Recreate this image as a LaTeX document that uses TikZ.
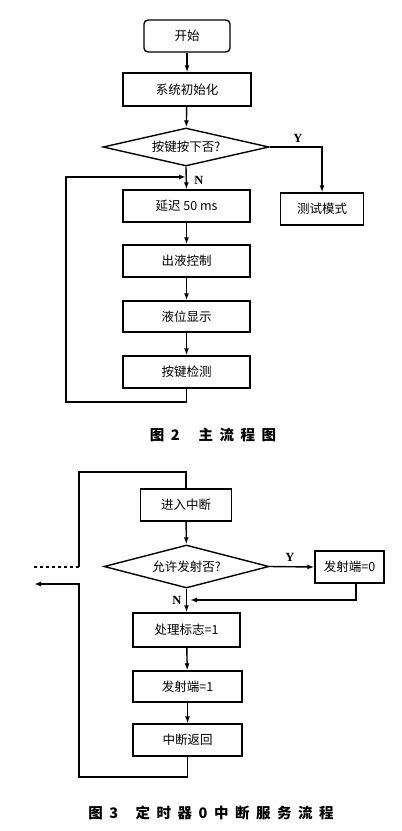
\documentclass[tikz,border=0pt]{standalone}
\usepackage{fontspec}
\newfontfamily\cjk{Noto Sans CJK SC}
\newfontfamily\lat{Liberation Serif}
\usetikzlibrary{shapes.geometric,arrows.meta}
\begin{document}
\begin{tikzpicture}[x=1pt,y=-1pt,
  line width=1.4pt,
  box/.style={draw,rectangle,inner sep=0pt,minimum height=32pt,font=\cjk\fontsize{12.5}{14}\selectfont},
  rbox/.style={box,rounded corners=4pt},
  dia/.style={draw,diamond,aspect=4.4,inner sep=0pt,font=\cjk\fontsize{12.5}{14}\selectfont},
  lab/.style={font=\lat\bfseries\fontsize{12.5}{14}\selectfont},
  captext/.style={font=\cjk\bfseries\fontsize{14.5}{16}\selectfont},
  arr/.style={-{Latex[length=7pt,width=5pt]}}
]
\useasboundingbox (0,0) rectangle (402,831);
% ---------- Figure 2 ----------
\node[rbox,minimum width=86pt] (start) at (187,36) {开始};
\node[box,minimum width=128pt,minimum height=33pt] (init) at (187,89.5) {系统初始化};
\node[dia,minimum width=166pt,minimum height=38pt] (dec1) at (186,147) {按键按下否?};
\node[box,minimum width=83pt] (test) at (322,209) {测试模式};
\node[box,minimum width=127pt] (delay) at (186.5,206) {延迟 50 ms};
\node[box,minimum width=127pt] (liq) at (186.5,261) {出液控制};
\node[box,minimum width=127pt,minimum height=31pt] (disp) at (186.5,316.5) {液位显示};
\node[box,minimum width=127pt] (key) at (186.5,372) {按键检测};
\node[lab] (y1) at (298,138) {Y};
\node[lab] (n1) at (199,180) {N};
\coordinate (j1) at (186,177);
\coordinate (b1) at (186.5,402);
\coordinate (l1) at (66,402);
\coordinate (t1) at (66,177);
\draw[arr] (start) -- (init);
\draw[arr] (init) -- (dec1);
\draw[arr] (dec1.south) -- (delay.north);
\draw[arr] (dec1.east) -| (test.north);
\draw[arr] (delay) -- (liq);
\draw[arr] (liq) -- (disp);
\draw[arr] (disp) -- (key);
\draw[arr] (key.south) -- (b1) -- (l1) -- (t1) -- (j1);
\node[captext] (cap2) at (213,435) {图\hspace{0.45em}2\hspace{1.3em}主\hspace{0.45em}流\hspace{0.45em}程\hspace{0.45em}图};
% ---------- Figure 3 ----------
\node[box,minimum width=91pt] (enter) at (186,505) {进入中断};
\node[dia,minimum width=165pt,minimum height=43pt] (dec2) at (186.5,566.5) {允许发射否?};
\node[box,minimum width=69pt] (out0) at (349.5,567) {发射端=0};
\node[box,minimum width=107pt,minimum height=34pt] (flag) at (186.5,630) {处理标志=1};
\node[box,minimum width=109pt,minimum height=31pt] (out1) at (187.5,686.5) {发射端=1};
\node[box,minimum width=109pt] (ret) at (187.5,740) {中断返回};
\node[lab] (y2) at (290,557) {Y};
\node[lab] (n2) at (177,600) {N};
\coordinate (tl) at (79,472);
\coordinate (tr) at (186,472);
\coordinate (ml) at (79,567);
\coordinate (dl) at (33,567);
\coordinate (r0) at (356,600);
\coordinate (r1) at (190,600);
\coordinate (bb) at (187.5,777);
\coordinate (bl) at (79,777);
\coordinate (al) at (79,584);
\coordinate (ae) at (34,584);
\draw (ml) -- (tl) -- (tr) -- (enter.north);
\draw[dashed] (ml) -- (dl);
\draw[arr] (enter) -- (dec2);
\draw[arr] (dec2.east) -- (out0.west);
\draw[arr] (out0.south -| r0) -- (r0) -- (r1);
\draw[arr] (dec2.south) -- (flag.north);
\draw[arr] (flag) -- (out1);
\draw[arr] (out1) -- (ret);
\draw[arr] (ret.south) -- (bb) -- (bl) -- (al) -- (ae);
\node[captext] (cap3) at (211,813) {图\hspace{0.45em}3\hspace{1.2em}定\hspace{0.45em}时\hspace{0.45em}器\hspace{0.45em}0\hspace{0.45em}中\hspace{0.45em}断\hspace{0.45em}服\hspace{0.45em}务\hspace{0.45em}流\hspace{0.45em}程};
\end{tikzpicture}
\end{document}
